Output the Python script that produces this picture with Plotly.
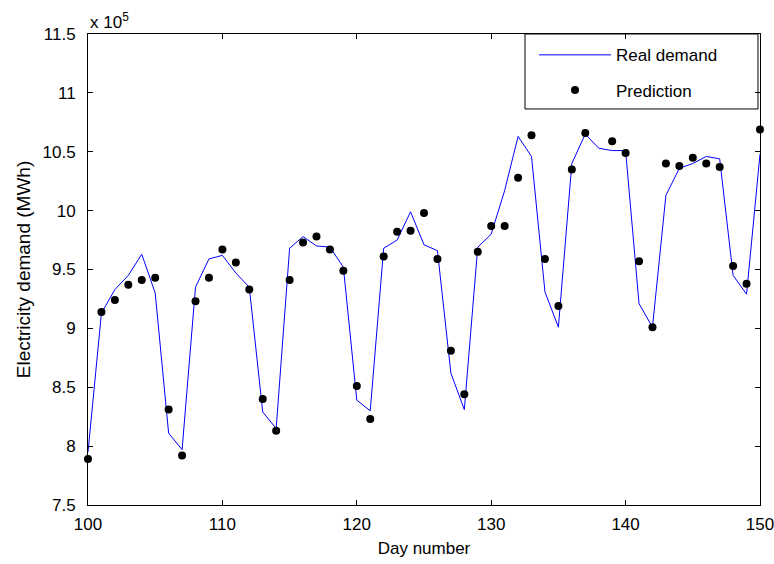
import plotly.graph_objects as go

# Values in units of 10^5 MWh
days = list(range(100, 151))
real_demand = [7.95, 9.13, 9.33, 9.45, 9.63, 9.30, 8.11, 7.97, 9.35, 9.59,
               9.62, 9.47, 9.35, 8.29, 8.15, 9.68, 9.78, 9.70, 9.69, 9.52,
               8.39, 8.30, 9.68, 9.75, 9.99, 9.71, 9.66, 8.62, 8.31, 9.69,
               9.80, 10.17, 10.63, 10.46, 9.31, 9.01, 10.40, 10.65, 10.53, 10.51,
               10.51, 9.21, 9.01, 10.13, 10.36, 10.40, 10.46, 10.44, 9.45, 9.29,
               10.48]
prediction = [7.89, 9.14, 9.24, 9.37, 9.41, 9.43, 8.31, 7.92, 9.23, 9.43,
              9.67, 9.56, 9.33, 8.40, 8.13, 9.41, 9.73, 9.78, 9.67, 9.49,
              8.51, 8.23, 9.61, 9.82, 9.83, 9.98, 9.59, 8.81, 8.44, 9.65,
              9.87, 9.87, 10.28, 10.64, 9.59, 9.19, 10.35, 10.66, None, 10.59,
              10.49, 9.57, 9.01, 10.40, 10.38, 10.45, 10.40, 10.37, 9.53, 9.38,
              10.69]
pred_days = [d for d, v in zip(days, prediction) if v is not None]
pred_vals = [v for v in prediction if v is not None]

x_ticks = [100, 110, 120, 130, 140, 150]
y_ticks = [7.5, 8, 8.5, 9, 9.5, 10, 10.5, 11, 11.5]
y_tick_labels = ["7.5", "8", "8.5", "9", "9.5", "10", "10.5", "11", "11.5"]

font = dict(family="Liberation Sans, Arial, sans-serif", size=17, color="black")
ytitle_font = dict(family="Liberation Sans, Arial, sans-serif", size=19, color="black")

fig = go.Figure()
fig.add_trace(go.Scatter(x=days, y=real_demand, mode="lines", name="Real demand",
                         line=dict(color="#0000FF", width=1), legendgroup="a"))
fig.add_trace(go.Scatter(x=pred_days, y=pred_vals, mode="markers", name="Prediction",
                         marker=dict(color="black", size=8), legendgroup="b",
                         cliponaxis=False))

axis_common = dict(showline=True, linecolor="black", linewidth=1, mirror="ticks",
                   ticks="inside", ticklen=5, tickcolor="black", showgrid=False,
                   zeroline=False, tickfont=font, ticklabeloverflow="allow",
                   automargin=False)

fig.update_layout(
    width=774, height=564,
    margin=dict(l=88, r=14, t=34, b=59),
    paper_bgcolor="white", plot_bgcolor="white",
    font=font,
    xaxis=dict(range=[100, 150], tickvals=x_ticks, ticklabelstandoff=4,
               title=dict(text="Day number", font=font, standoff=8), **axis_common),
    yaxis=dict(range=[7.5, 11.5], tickvals=y_ticks, ticktext=y_tick_labels,
               ticklabelstandoff=8,
               title=dict(text="Electricity demand (MWh)", font=ytitle_font, standoff=6),
               **axis_common),
    legend=dict(x=0.6637, y=0.993, xanchor="left", yanchor="top",
                borderwidth=0, bgcolor="rgba(0,0,0,0)",
                font=font, itemwidth=72, tracegroupgap=10, traceorder="grouped"),
    shapes=[dict(type="rect", xref="paper", yref="paper",
                 x0=0.6503, x1=0.997, y0=0.8408, y1=1.0,
                 line=dict(color="black", width=1), fillcolor="white", layer="below")],
    annotations=[dict(text="x 10<sup>5</sup>", xref="paper", yref="paper",
                      x=0, y=1, xanchor="left", yanchor="bottom",
                      showarrow=False, font=font)],
)

fig.write_html("out.html")
